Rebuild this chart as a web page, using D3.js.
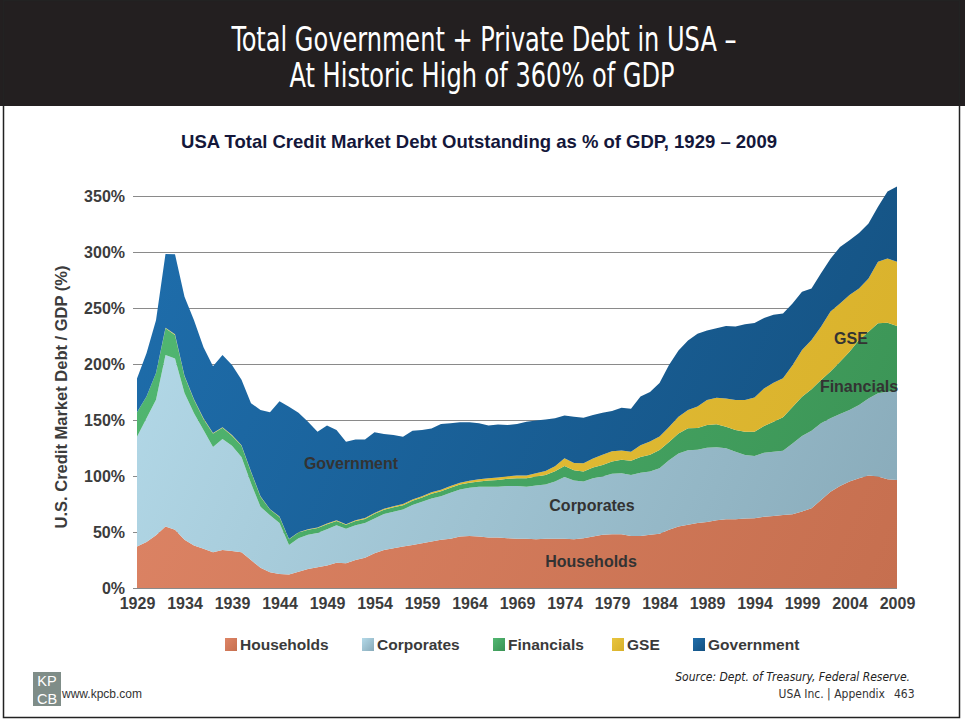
<!DOCTYPE html>
<html lang="en">
<head>
    <meta charset="UTF-8">
    <title>USA Total Credit Market Debt Outstanding</title>
    <script src="https://cdn.jsdelivr.net/npm/d3@7"></script>
</head>
<style>
    body { margin: 0; background: #fff; }
    svg { display: block; }
</style>
<body>
    <div id="graphDiv"></div>

    <script>
        // Data, % of GDP, one value per year 1929-2009
        var years = d3.range(1929, 2010)

        var households = [37, 41, 47, 55, 52, 43, 38, 35, 32, 34, 33, 32, 25, 18, 14, 12.5, 12, 14.5, 17, 18.5,
            20, 22.5, 22, 25, 27, 31, 34, 35.5, 37, 38.5, 40, 41.5, 43, 44, 46, 46.5, 46, 45, 45, 44.5,
            44, 44, 43.5, 44, 44, 44, 43.5, 44.5, 46, 47.5, 48, 48, 46.5, 46.5, 47.5, 48.5, 52, 55, 56.5, 58,
            59, 60.5, 61.3, 61.3, 62, 62.2, 63.7, 64.3, 65.2, 65.8, 68.2, 71.1, 78.6, 86, 91, 95, 98, 100.5, 99.5, 97,
            96.5]
        var corporates = [98, 110.5, 121, 153, 153, 131, 118, 106, 94, 99, 94, 85, 68.5, 54.5, 51, 45.5, 26.5, 30, 30.5, 30.5,
            32.5, 33.5, 31, 31, 31, 31, 32, 32.5, 33, 35.5, 37, 38.5, 39, 41, 42, 43, 44.5, 45.5, 45.5, 46.5,
            47, 46.5, 48, 48.5, 51, 55, 52.5, 50.5, 52, 52, 54, 54.5, 54.5, 56.5, 56.5, 58.5, 62, 65, 66.5, 65.5,
            66.3, 65.1, 63.4, 60.4, 56.8, 55.7, 57.1, 57.4, 57.4, 63.2, 67.5, 69.4, 68.4, 65.5, 64.4, 64, 65.4, 68.8, 74.3, 78.3,
            79.4]
        var financials = [22, 19.5, 24, 24, 21, 15, 12, 10, 12, 10, 9, 10, 10, 9, 5, 5.5, 5, 5, 4.5, 4.5,
            4.5, 3.9, 3.4, 3.8, 3.7, 4.2, 3.9, 4, 3.9, 3.8, 3.7, 4.1, 4.3, 4.4, 4.3, 4.4, 4.6, 5.5, 6, 6.5,
            7, 7.5, 8, 8.5, 9.3, 10, 9.2, 9, 9.7, 10.4, 11, 11.9, 12.7, 14, 14.9, 16.2, 16.3, 18, 19.6, 19.3,
            20.2, 20.5, 19.3, 19.3, 20.8, 21.7, 23.8, 26.8, 29.8, 32.7, 35, 36.9, 38.7, 41.7, 46.7, 52, 58, 59.5, 62.5, 61.6,
            58]
        var gse = [0, 0, 0, 0.3, 0.5, 0.5, 0.5, 0.5, 0.5, 0.5, 0.5, 0.5, 0.5, 0.4, 0.4, 0.3, 0.3, 0.3, 0.4, 0.5,
            0.5, 0.6, 0.6, 0.7, 0.8, 0.8, 0.9, 1, 1.1, 1.2, 1.3, 1.4, 1.5, 1.6, 1.7, 1.8, 1.9, 2, 2.1, 2.3,
            2.5, 2.5, 3, 3.5, 4.5, 6.8, 6.5, 7.4, 8, 9, 9, 8.3, 8, 10.4, 12, 12, 13.4, 15, 16.4, 19.3,
            22.3, 23.8, 25.3, 26.8, 28.3, 30.6, 33.6, 34.8, 34.8, 37.2, 41.7, 44, 47.6, 53.6, 52, 50.6, 46, 47.6, 55, 57.4,
            57.4]
        var government = [30, 38.5, 47, 66, 71.5, 70.5, 70.5, 63.5, 59.5, 64.5, 62.5, 58.5, 61, 77, 86.5, 103, 118, 106.7, 96.1, 85.5,
            87.5, 80.5, 73.5, 72, 70, 72, 66.7, 63.5, 60, 61.5, 59, 57, 58.7, 56, 54, 52.3, 50, 47, 47.4, 45.7,
            46, 48, 47, 46, 42.7, 38.2, 41.3, 40.6, 38.8, 37.6, 36, 38.3, 38.3, 43.6, 44.1, 47.8, 55.3, 59, 62, 64.9,
            62.2, 62.1, 64.7, 65.7, 67.6, 66.3, 62.8, 60.7, 57.8, 55.1, 52.1, 46.1, 47.7, 47.2, 50.4, 48.9, 49.6, 49.1, 49.2, 59.7,
            67.2]

        var seriesNames = ['Households', 'Corporates', 'Financials', 'GSE', 'Government']
        var xTicks = [1929, 1934, 1939, 1944, 1949, 1954, 1959, 1964, 1969, 1974, 1979, 1984, 1989, 1994, 1999, 2004, 2009]
        var yTicks = [0, 50, 100, 150, 200, 250, 300, 350]

        // colours: [light, dark] for each series' gradient
        var colors = {
            Households: ['#de8566', '#c66f4f'],
            Corporates: ['#b4dae9', '#88aab9'],
            Financials: ['#52b872', '#3a9254'],
            GSE: ['#e8c53e', '#d8b02a'],
            Government: ['#1e6dab', '#14507f']
        }

        var width = 965
        var height = 722

        var svg = d3.select('#graphDiv')
                    .append('svg')
                    .attr('width', width)
                    .attr('height', height)

        var defs = svg.append('defs')

        // header band
        svg.append('rect')
            .attr('x', 0).attr('y', 0)
            .attr('width', width).attr('height', 106)
            .attr('fill', '#231f20')

        var narrow = '"Liberation Sans Narrow", "Arial Narrow", "DejaVu Sans Condensed", sans-serif'

        svg.append('text')
            .attr('x', 484).attr('y', 51)
            .attr('text-anchor', 'middle')
            .attr('font-family', narrow)
            .attr('font-size', 33)
            .attr('fill', '#fff')
            .attr('textLength', 505)
            .attr('lengthAdjust', 'spacingAndGlyphs')
            .text('Total Government + Private Debt in USA \u2013')

        svg.append('text')
            .attr('x', 482).attr('y', 87)
            .attr('text-anchor', 'middle')
            .attr('font-family', narrow)
            .attr('font-size', 33)
            .attr('fill', '#fff')
            .attr('textLength', 385)
            .attr('lengthAdjust', 'spacingAndGlyphs')
            .text('At Historic High of 360% of GDP')

        // page frame
        svg.append('rect')
            .attr('x', 3.5).attr('y', 0.5)
            .attr('width', 956).attr('height', 717)
            .attr('fill', 'none')
            .attr('stroke', '#222')
            .attr('stroke-width', 1.5)

        // chart title
        svg.append('text')
            .attr('x', 479).attr('y', 148)
            .attr('text-anchor', 'middle')
            .attr('font-family', 'Liberation Sans, Arial, sans-serif')
            .attr('font-weight', 'bold')
            .attr('font-size', 18.5)
            .attr('fill', '#14173a')
            .text('USA Total Credit Market Debt Outstanding as % of GDP, 1929 \u2013 2009')

        // scales
        var xScale = d3.scaleLinear()
                        .domain([1929, 2009])
                        .range([137, 897])

        var yScale = d3.scaleLinear()
                        .domain([0, 350])
                        .range([588, 196])

        // gridlines (behind the areas)
        svg.append('g')
            .selectAll('line')
            .data(yTicks)
            .join('line')
            .attr('x1', 133).attr('x2', 897)
            .attr('y1', d => yScale(d) + 0.5).attr('y2', d => yScale(d) + 0.5)
            .attr('stroke', '#8a8a8a')
            .attr('stroke-width', 1)

        // build table and stack it
        var table = years.map((yr, i) => ({
            year: yr,
            Households: households[i],
            Corporates: corporates[i],
            Financials: financials[i],
            GSE: gse[i],
            Government: government[i]
        }))

        var stacked = d3.stack().keys(seriesNames)(table)

        seriesNames.forEach(name => {
            var g = defs.append('linearGradient')
                .attr('id', 'grad-' + name)
                .attr('gradientUnits', 'userSpaceOnUse')
                .attr('x1', 137).attr('y1', 250)
                .attr('x2', 897).attr('y2', 588)
            g.append('stop').attr('offset', '0%').attr('stop-color', colors[name][0])
            g.append('stop').attr('offset', '100%').attr('stop-color', colors[name][1])

            var lg = defs.append('linearGradient')
                .attr('id', 'leg-' + name)
                .attr('x1', 0).attr('y1', 0).attr('x2', 1).attr('y2', 1)
            lg.append('stop').attr('offset', '0%').attr('stop-color', colors[name][0])
            lg.append('stop').attr('offset', '100%').attr('stop-color', colors[name][1])
        })

        var area = d3.area()
                    .x(d => xScale(d.data.year))
                    .y0(d => yScale(d[0]))
                    .y1(d => yScale(d[1]))

        svg.append('g')
            .selectAll('path')
            .data(stacked)
            .join('path')
            .attr('d', area)
            .attr('fill', d => 'url(#grad-' + d.key + ')')

        // axes
        var yAxis = d3.axisLeft(yScale)
                        .tickValues(yTicks)
                        .tickSize(0)
                        .tickPadding(12)
                        .tickFormat(d => d + '%')

        var yAxisG = svg.append('g')
            .attr('transform', 'translate(137,0)')
            .call(yAxis)
        yAxisG.select('.domain').remove()
        yAxisG.selectAll('text')
            .attr('font-family', 'Liberation Sans, Arial, sans-serif')
            .attr('font-weight', 'bold')
            .attr('font-size', 16)
            .attr('fill', '#3c3c3c')

        var xAxis = d3.axisBottom(xScale)
                        .tickValues(xTicks)
                        .tickSize(0)
                        .tickPadding(10)
                        .tickFormat(d3.format('d'))

        var xAxisG = svg.append('g')
            .attr('transform', 'translate(0,588)')
            .call(xAxis)
        xAxisG.select('.domain').remove()
        xAxisG.selectAll('text')
            .attr('font-family', 'Liberation Sans, Arial, sans-serif')
            .attr('font-weight', 'bold')
            .attr('font-size', 16)
            .attr('fill', '#3c3c3c')

        // y axis title
        svg.append('text')
            .attr('transform', 'translate(67,397) rotate(-90)')
            .attr('text-anchor', 'middle')
            .attr('font-family', 'Liberation Sans, Arial, sans-serif')
            .attr('font-weight', 'bold')
            .attr('font-size', 16.5)
            .attr('fill', '#3c3c3c')
            .text('U.S. Credit Market Debt / GDP (%)')

        // labels inside the areas
        var areaLabels = [
            { text: 'Government', x: 351, y: 463 },
            { text: 'Corporates', x: 592, y: 505 },
            { text: 'Households', x: 591, y: 561 },
            { text: 'GSE', x: 851, y: 338 },
            { text: 'Financials', x: 859, y: 386 }
        ]
        svg.append('g')
            .selectAll('text')
            .data(areaLabels)
            .join('text')
            .attr('x', d => d.x).attr('y', d => d.y)
            .attr('dy', '0.35em')
            .attr('text-anchor', 'middle')
            .attr('font-family', 'Liberation Sans, Arial, sans-serif')
            .attr('font-weight', 'bold')
            .attr('font-size', 16)
            .attr('fill', '#333')
            .text(d => d.text)

        // legend
        var legendX = [225, 362, 493, 612, 693]
        var legend = svg.append('g')
            .selectAll('g')
            .data(seriesNames)
            .join('g')
            .attr('transform', (d, i) => `translate(${legendX[i]}, 638)`)
        legend.append('rect')
            .attr('width', 12).attr('height', 13)
            .attr('fill', d => 'url(#leg-' + d + ')')
        legend.append('text')
            .attr('x', 15).attr('y', 6.5)
            .attr('dy', '0.35em')
            .attr('font-family', 'Liberation Sans, Arial, sans-serif')
            .attr('font-weight', 'bold')
            .attr('font-size', 15.5)
            .attr('fill', '#3a3a3a')
            .text(d => d)

        // footer
        svg.append('text')
            .attr('x', 910).attr('y', 681)
            .attr('text-anchor', 'end')
            .attr('font-family', narrow)
            .attr('font-style', 'italic')
            .attr('font-size', 12)
            .attr('fill', '#222')
            .text('Source: Dept. of Treasury, Federal Reserve.')

        svg.append('text')
            .attr('x', 885).attr('y', 698)
            .attr('text-anchor', 'end')
            .attr('font-family', narrow)
            .attr('font-size', 12)
            .attr('fill', '#333')
            .text('USA Inc. | Appendix')

        svg.append('text')
            .attr('x', 894).attr('y', 698)
            .attr('font-family', narrow)
            .attr('font-size', 12)
            .attr('fill', '#333')
            .text('463')

        var logo = svg.append('g').attr('transform', 'translate(33,672)')
        logo.append('rect')
            .attr('width', 28).attr('height', 34)
            .attr('fill', '#7f8d88')
        logo.append('text')
            .attr('x', 14).attr('y', 14)
            .attr('text-anchor', 'middle')
            .attr('font-family', 'Liberation Sans, Arial, sans-serif')
            .attr('font-size', 14.5)
            .attr('fill', '#fff')
            .text('KP')
        logo.append('text')
            .attr('x', 14).attr('y', 32)
            .attr('text-anchor', 'middle')
            .attr('font-family', 'Liberation Sans, Arial, sans-serif')
            .attr('font-size', 14.5)
            .attr('fill', '#fff')
            .text('CB')

        svg.append('text')
            .attr('x', 62).attr('y', 698)
            .attr('font-family', 'Liberation Sans, Arial, sans-serif')
            .attr('font-size', 12)
            .attr('fill', '#333')
            .text('www.kpcb.com')
    </script>
</body>
</html>
